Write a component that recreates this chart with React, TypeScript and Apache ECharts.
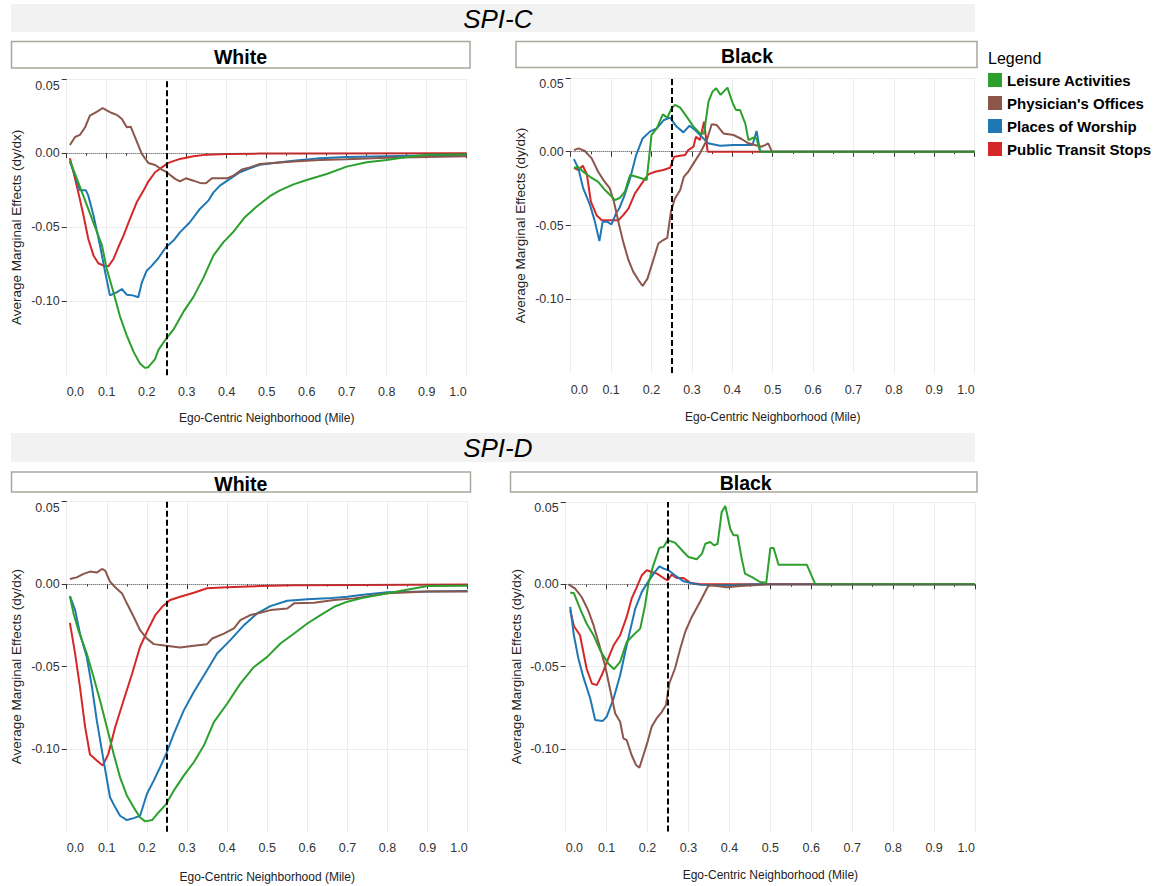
import React, { useEffect, useRef } from "react";
import * as echarts from "echarts";

// ---- series labels and colours ----
const seriesNames = ["Leisure Activities", "Physician's Offices", "Places of Worship", "Public Transit Stops"];
const seriesColors = ["#2ca02c", "#8c564b", "#1f77b4", "#d62728"];
const stripLabels = ["White", "Black", "White", "Black"];
const sectionTitles = ["SPI-C", "SPI-D"];
const yLabelValues = [0.05, 0, -0.05, -0.1];
const cutoffMile = 0.25;

// ---- SPI-C, White ----
const cWhiteLeisure: [number, number][] = [[0.008,-0.005],[0.042,-0.029],[0.067,-0.047],[0.088,-0.062],[0.1,-0.078],[0.117,-0.094],[0.133,-0.11],[0.15,-0.123],[0.167,-0.134],[0.183,-0.142],[0.196,-0.145],[0.204,-0.1445],[0.221,-0.139],[0.229,-0.133],[0.248,-0.1255],[0.267,-0.119],[0.292,-0.107],[0.317,-0.097],[0.342,-0.084],[0.367,-0.069],[0.392,-0.06],[0.417,-0.053],[0.446,-0.043],[0.475,-0.036],[0.508,-0.029],[0.533,-0.025],[0.567,-0.021],[0.6,-0.018],[0.65,-0.014],[0.7,-0.009],[0.75,-0.006],[0.8,-0.0045],[0.85,-0.0025],[0.9,-0.001],[1.0,-0.0006]];
const cWhitePhysician: [number, number][] = [[0.008,0.0056],[0.021,0.011],[0.033,0.0124],[0.046,0.0176],[0.058,0.0255],[0.075,0.028],[0.09,0.0306],[0.1,0.029],[0.113,0.0272],[0.125,0.026],[0.138,0.0232],[0.15,0.0176],[0.16,0.018],[0.171,0.0108],[0.188,-0.0005],[0.204,-0.0065],[0.221,-0.0079],[0.238,-0.011],[0.25,-0.0128],[0.271,-0.0173],[0.283,-0.019],[0.298,-0.0169],[0.317,-0.0185],[0.333,-0.02],[0.348,-0.0203],[0.363,-0.0169],[0.383,-0.0169],[0.4,-0.0169],[0.417,-0.0151],[0.438,-0.011],[0.458,-0.0095],[0.483,-0.0072],[0.517,-0.0065],[0.567,-0.0056],[0.633,-0.0045],[0.7,-0.004],[0.8,-0.003],[0.9,-0.0025],[1.0,-0.002]];
const cWhiteWorship: [number, number][] = [[0.008,-0.0056],[0.021,-0.015],[0.033,-0.025],[0.048,-0.025],[0.054,-0.0286],[0.067,-0.042],[0.083,-0.062],[0.096,-0.08],[0.108,-0.096],[0.125,-0.094],[0.138,-0.0917],[0.15,-0.0955],[0.165,-0.096],[0.179,-0.0973],[0.188,-0.0872],[0.2,-0.0793],[0.213,-0.0759],[0.229,-0.0709],[0.248,-0.0635],[0.267,-0.059],[0.283,-0.0534],[0.308,-0.0466],[0.333,-0.0376],[0.354,-0.032],[0.367,-0.0264],[0.383,-0.0218],[0.408,-0.0173],[0.433,-0.0128],[0.458,-0.0101],[0.483,-0.0077],[0.517,-0.0065],[0.567,-0.005],[0.633,-0.0034],[0.7,-0.0025],[0.8,-0.002],[0.9,-0.0015],[1.0,-0.001]];
const cWhiteTransit: [number, number][] = [[0.008,-0.0034],[0.017,-0.0128],[0.029,-0.0264],[0.042,-0.042],[0.054,-0.0579],[0.067,-0.069],[0.079,-0.0743],[0.092,-0.0759],[0.104,-0.0764],[0.117,-0.0714],[0.129,-0.0635],[0.142,-0.0556],[0.158,-0.0444],[0.175,-0.0331],[0.192,-0.0252],[0.204,-0.0191],[0.221,-0.0128],[0.238,-0.0095],[0.254,-0.0065],[0.283,-0.0038],[0.317,-0.002],[0.35,-0.0009],[0.4,-0.0005],[0.483,-0.0002],[0.6,-0.0001],[1.0,0]];

// ---- SPI-C, Black ----
const cBlackLeisure: [number, number][] = [[0.008,-0.0109],[0.019,-0.0104],[0.031,-0.0136],[0.048,-0.017],[0.068,-0.0204],[0.085,-0.026],[0.11,-0.0328],[0.122,-0.0312],[0.134,-0.0271],[0.147,-0.0158],[0.163,-0.017],[0.188,-0.0192],[0.2,0.0113],[0.213,0.0158],[0.228,0.0253],[0.239,0.0231],[0.25,0.0294],[0.258,0.0317],[0.271,0.0299],[0.287,0.0238],[0.304,0.017],[0.32,0.0124],[0.33,0.0124],[0.341,0.0339],[0.351,0.0407],[0.36,0.043],[0.371,0.0385],[0.388,0.0434],[0.401,0.0328],[0.409,0.0283],[0.419,0.0283],[0.432,0.0192],[0.44,0.0079],[0.452,0.0095],[0.46,0.009],[0.469,0],[1.0,0]];
const cBlackPhysician: [number, number][] = [[0.008,0.0011],[0.019,0.0023],[0.035,0.0005],[0.052,-0.0045],[0.068,-0.0136],[0.081,-0.0192],[0.097,-0.0249],[0.107,-0.0339],[0.12,-0.0498],[0.13,-0.0611],[0.143,-0.0735],[0.155,-0.0814],[0.168,-0.0871],[0.178,-0.091],[0.19,-0.086],[0.203,-0.0747],[0.217,-0.0622],[0.228,-0.06],[0.239,-0.0584],[0.248,-0.0407],[0.258,-0.0317],[0.271,-0.026],[0.28,-0.017],[0.291,-0.0136],[0.304,-0.0079],[0.32,-0.0011],[0.337,0.0079],[0.349,0.0186],[0.361,0.0181],[0.378,0.0124],[0.403,0.0113],[0.423,0.0086],[0.44,0.0057],[0.456,0.0045],[0.473,0.0034],[0.481,0.0045],[0.489,0.0057],[0.498,0],[1.0,0]];
const cBlackWorship: [number, number][] = [[0.008,-0.005],[0.019,-0.0113],[0.031,-0.0249],[0.048,-0.0362],[0.06,-0.0475],[0.071,-0.0606],[0.079,-0.0475],[0.091,-0.0475],[0.101,-0.0493],[0.112,-0.0419],[0.12,-0.0385],[0.132,-0.0305],[0.147,-0.0181],[0.162,-0.0023],[0.178,0.009],[0.196,0.0136],[0.213,0.0158],[0.231,0.0215],[0.246,0.0231],[0.262,0.017],[0.279,0.0131],[0.294,0.0176],[0.308,0.0147],[0.324,0.0102],[0.34,0.0057],[0.37,0.0041],[0.403,0.0045],[0.436,0.0045],[0.45,0.0045],[0.46,0.014],[0.469,0],[1.0,0]];
const cBlackTransit: [number, number][] = [[0.008,-0.0109],[0.019,-0.0124],[0.03,-0.0095],[0.04,-0.0154],[0.05,-0.0339],[0.064,-0.043],[0.077,-0.0464],[0.093,-0.0464],[0.118,-0.0464],[0.13,-0.043],[0.143,-0.0385],[0.159,-0.0283],[0.176,-0.0215],[0.192,-0.0154],[0.209,-0.0136],[0.229,-0.0124],[0.246,-0.0109],[0.256,-0.0034],[0.271,-0.0027],[0.283,-0.0023],[0.291,0.0011],[0.304,0.0034],[0.31,0.0102],[0.32,0.0079],[0.33,0.0204],[0.339,0],[1.0,0]];

// ---- SPI-D, White ----
const dWhiteLeisure: [number, number][] = [[0.008,-0.0073],[0.017,-0.0178],[0.029,-0.0279],[0.05,-0.0421],[0.067,-0.0563],[0.083,-0.0704],[0.1,-0.0866],[0.117,-0.1028],[0.133,-0.117],[0.15,-0.128],[0.167,-0.1352],[0.183,-0.1413],[0.196,-0.1437],[0.213,-0.1429],[0.229,-0.1383],[0.248,-0.1332],[0.267,-0.1251],[0.292,-0.116],[0.317,-0.1079],[0.342,-0.0978],[0.367,-0.0836],[0.4,-0.0725],[0.433,-0.0603],[0.467,-0.0502],[0.5,-0.0441],[0.533,-0.036],[0.567,-0.03],[0.6,-0.0239],[0.633,-0.0188],[0.667,-0.0138],[0.7,-0.0107],[0.733,-0.0087],[0.8,-0.0056],[0.9,-0.0012],[1.0,-0.001]];
const dWhitePhysician: [number, number][] = [[0.008,0.003],[0.025,0.004],[0.042,0.0061],[0.058,0.0075],[0.075,0.0069],[0.088,0.0091],[0.096,0.0081],[0.108,0.0014],[0.121,-0.002],[0.138,-0.0057],[0.15,-0.0117],[0.167,-0.0198],[0.183,-0.0279],[0.2,-0.033],[0.217,-0.0364],[0.248,-0.0374],[0.283,-0.0385],[0.317,-0.0374],[0.35,-0.0364],[0.363,-0.033],[0.392,-0.03],[0.417,-0.0269],[0.433,-0.0219],[0.458,-0.0188],[0.483,-0.0174],[0.508,-0.0158],[0.55,-0.0148],[0.567,-0.0117],[0.617,-0.0113],[0.667,-0.0097],[0.717,-0.0087],[0.8,-0.0056],[0.9,-0.0046],[1.0,-0.0046]];
const dWhiteWorship: [number, number][] = [[0.008,-0.0073],[0.021,-0.0158],[0.033,-0.03],[0.05,-0.0441],[0.063,-0.0623],[0.075,-0.0826],[0.092,-0.1069],[0.108,-0.1291],[0.121,-0.1352],[0.133,-0.1403],[0.15,-0.1429],[0.167,-0.1417],[0.183,-0.1403],[0.2,-0.1271],[0.217,-0.119],[0.233,-0.1109],[0.248,-0.1028],[0.267,-0.0907],[0.292,-0.0765],[0.317,-0.0654],[0.35,-0.0522],[0.375,-0.0421],[0.408,-0.034],[0.442,-0.0249],[0.475,-0.0178],[0.508,-0.0134],[0.55,-0.0101],[0.6,-0.0093],[0.65,-0.0087],[0.7,-0.0077],[0.733,-0.0067],[0.8,-0.005],[0.9,-0.0045],[1.0,-0.0042]];
const dWhiteTransit: [number, number][] = [[0.008,-0.0235],[0.021,-0.0421],[0.033,-0.0623],[0.046,-0.0866],[0.058,-0.1032],[0.075,-0.1069],[0.09,-0.1099],[0.104,-0.1028],[0.121,-0.0866],[0.142,-0.0704],[0.163,-0.0543],[0.183,-0.038],[0.2,-0.029],[0.221,-0.0188],[0.238,-0.0138],[0.258,-0.0097],[0.283,-0.0077],[0.317,-0.0053],[0.35,-0.0026],[0.4,-0.002],[0.483,-0.0012],[0.567,-0.0008],[0.733,-0.0006],[1.0,-0.0003]];

// ---- SPI-D, Black ----
const dBlackLeisure: [number, number][] = [[0.011,-0.0051],[0.02,-0.0053],[0.035,-0.0147],[0.051,-0.0238],[0.068,-0.0309],[0.084,-0.04],[0.104,-0.0481],[0.118,-0.0515],[0.133,-0.0471],[0.149,-0.035],[0.165,-0.0309],[0.182,-0.0269],[0.194,-0.0127],[0.202,0.0004],[0.214,0.0115],[0.229,0.0222],[0.239,0.0226],[0.249,0.0267],[0.267,0.0253],[0.288,0.0196],[0.3,0.0166],[0.32,0.0152],[0.333,0.0186],[0.341,0.0246],[0.353,0.0257],[0.363,0.0236],[0.371,0.0246],[0.377,0.0358],[0.381,0.0438],[0.39,0.0475],[0.402,0.0337],[0.41,0.0297],[0.42,0.0297],[0.43,0.0156],[0.438,0.0065],[0.455,0.0044],[0.475,0.0014],[0.49,0.001],[0.5,0.022],[0.508,0.022],[0.52,0.0119],[0.557,0.0119],[0.589,0.0119],[0.61,0],[1.0,0]];
const dBlackPhysician: [number, number][] = [[0.007,0],[0.023,-0.0026],[0.039,-0.0077],[0.055,-0.0158],[0.068,-0.0248],[0.08,-0.035],[0.096,-0.0491],[0.108,-0.0632],[0.121,-0.0784],[0.133,-0.0834],[0.141,-0.0935],[0.149,-0.0945],[0.161,-0.1036],[0.172,-0.1097],[0.18,-0.1113],[0.19,-0.1036],[0.2,-0.0956],[0.21,-0.0865],[0.223,-0.081],[0.235,-0.0774],[0.245,-0.0733],[0.253,-0.0602],[0.267,-0.0511],[0.28,-0.039],[0.292,-0.0289],[0.308,-0.0198],[0.328,-0.0107],[0.349,-0.0006],[0.369,-0.001],[0.394,-0.0018],[0.426,-0.001],[0.459,-0.0006],[0.49,0],[1.0,0]];
const dBlackWorship: [number, number][] = [[0.011,-0.0137],[0.02,-0.0309],[0.031,-0.045],[0.043,-0.0562],[0.06,-0.0693],[0.072,-0.0824],[0.09,-0.083],[0.1,-0.0804],[0.117,-0.0693],[0.133,-0.0552],[0.149,-0.037],[0.17,-0.0147],[0.186,-0.0046],[0.202,0.0018],[0.218,0.0075],[0.229,0.0109],[0.239,0.0095],[0.251,0.0085],[0.267,0.0055],[0.288,0.0018],[0.312,0.0004],[0.328,-0.0002],[0.394,-0.0006],[0.475,0],[1.0,0]];
const dBlackTransit: [number, number][] = [[0.011,-0.0158],[0.02,-0.0253],[0.035,-0.0309],[0.051,-0.0511],[0.064,-0.0602],[0.076,-0.0612],[0.088,-0.0552],[0.104,-0.045],[0.117,-0.037],[0.133,-0.0309],[0.149,-0.0198],[0.161,-0.0087],[0.174,-0.0016],[0.186,0.0055],[0.198,0.0085],[0.21,0.0075],[0.223,0.0065],[0.239,0.0038],[0.249,0.0024],[0.259,0.0059],[0.271,0.0038],[0.288,0.0038],[0.304,0.001],[0.328,0],[1.0,0]];

const panelData = [
  [cWhiteLeisure, cWhitePhysician, cWhiteWorship, cWhiteTransit],
  [cBlackLeisure, cBlackPhysician, cBlackWorship, cBlackTransit],
  [dWhiteLeisure, dWhitePhysician, dWhiteWorship, dWhiteTransit],
  [dBlackLeisure, dBlackPhysician, dBlackWorship, dBlackTransit],
];

// ---- layout (px) ----
const grids = [
  { left: 66.7, top: 79.3, width: 400, height: 296 },
  { left: 570.7, top: 77.9, width: 404, height: 295.2 },
  { left: 66.7, top: 501.4, width: 401, height: 330.4 },
  { left: 565.7, top: 501.9, width: 409.3, height: 329.6 },
];
const yNameGaps = [43, 43.5, 43, 42.5];
const xNameGaps = [37, 37.5, 39, 37.5];
const strips = [
  { x: 11.5, y: 41.5, w: 458.5, h: 26.5, tx: 240.5, ty: 56.5 },
  { x: 516, y: 41.5, w: 461, h: 26, tx: 747, ty: 56 },
  { x: 11.5, y: 472, w: 459, h: 20, tx: 240.8, ty: 483.5 },
  { x: 510.5, y: 472, w: 466.5, h: 20, tx: 745.7, ty: 483.3 },
];
const titleBars = [
  { y: 4, h: 28, ty: 18.5 },
  { y: 433, h: 29, ty: 448 },
];

const SANS = "'Liberation Sans', Arial, sans-serif";

function buildOption() {
  const drawOrder = [3, 2, 1, 0];
  const series: any[] = [];
  const xAxis: any[] = [];
  const yAxis: any[] = [];

  grids.forEach((g, i) => {
    xAxis.push({
      type: "value",
      gridIndex: i,
      min: 0,
      max: 1,
      interval: 0.1,
      axisLine: { show: false },
      axisTick: { show: true, length: 5, lineStyle: { color: "#333", width: 1 } },
      minorTick: { show: true, splitNumber: 2, length: 2.5, lineStyle: { color: "#333", width: 1 } },
      splitLine: { show: true, lineStyle: { color: "#ececec", width: 1 } },
      axisLabel: {
        formatter: (v: number) => v.toFixed(1),
        fontSize: 12.5,
        fontFamily: SANS,
        color: "#333",
        margin: 10,
        alignMinLabel: "left",
        alignMaxLabel: "right",
      },
      name: "Ego-Centric Neighborhood (Mile)",
      nameLocation: "middle",
      nameGap: xNameGaps[i],
      nameTextStyle: { fontSize: 12, fontFamily: SANS, color: "#222" },
    });
    yAxis.push({
      type: "value",
      gridIndex: i,
      min: -0.15,
      max: 0.05,
      interval: 0.05,
      axisLine: { show: false },
      axisTick: { show: true, length: 5, lineStyle: { color: "#333" }, customValues: yLabelValues },
      splitLine: { show: true, lineStyle: { color: "#ececec", width: 1 } },
      axisLabel: {
        formatter: (v: number) => (Math.abs(v) < 1e-9 ? "0.00" : v.toFixed(2)),
        showMinLabel: false,
        verticalAlignMaxLabel: "top",
        fontSize: 12.5,
        fontFamily: SANS,
        color: "#333",
        margin: 7,
      },
      name: "Average Marginal Effects (dy/dx)",
      nameLocation: "middle",
      nameGap: yNameGaps[i],
      nameTextStyle: { fontSize: 13.5, fontFamily: SANS, color: "#222" },
    });

    // zero reference (dotted), beneath the curves
    series.push({
      type: "line",
      xAxisIndex: i,
      yAxisIndex: i,
      data: [],
      z: 1,
      silent: true,
      markLine: {
        silent: true,
        symbol: ["none", "none"],
        label: { show: false },
        lineStyle: { type: "dotted", color: "#555", width: 1 },
        data: [{ yAxis: 0 }],
      },
    });

    drawOrder.forEach((k) => {
      series.push({
        type: "line",
        name: seriesNames[k],
        xAxisIndex: i,
        yAxisIndex: i,
        data: panelData[i][k],
        showSymbol: false,
        symbol: "none",
        z: 2,
        lineStyle: { color: seriesColors[k], width: 2 },
        itemStyle: { color: seriesColors[k] },
      });
    });

    // quarter-mile cutoff (dashed), above the curves
    series.push({
      type: "line",
      xAxisIndex: i,
      yAxisIndex: i,
      data: [],
      z: 5,
      silent: true,
      markLine: {
        silent: true,
        symbol: ["none", "none"],
        label: { show: false },
        lineStyle: { type: [6, 3], color: "#000", width: 2 },
        data: [{ xAxis: cutoffMile }],
      },
    });
  });

  const elements: any[] = [];
  titleBars.forEach((b, i) => {
    elements.push({ type: "rect", shape: { x: 11, y: b.y, width: 964, height: b.h }, style: { fill: "#f2f2f2" }, silent: true });
    elements.push({
      type: "text",
      x: 497.8,
      y: b.ty,
      style: { text: sectionTitles[i], font: `italic 26px ${SANS}`, fill: "#000", textAlign: "center", textVerticalAlign: "middle" },
      silent: true,
    });
  });
  strips.forEach((s, i) => {
    elements.push({
      type: "rect",
      shape: { x: s.x, y: s.y, width: s.w, height: s.h },
      style: { fill: "#fff", stroke: "#aaa69d", lineWidth: 1.5 },
      silent: true,
    });
    elements.push({
      type: "text",
      x: s.tx,
      y: s.ty,
      style: { text: stripLabels[i], font: `bold 19.5px ${SANS}`, fill: "#000", textAlign: "center", textVerticalAlign: "middle" },
      silent: true,
    });
  });
  elements.push({
    type: "text",
    x: 988,
    y: 58,
    style: { text: "Legend", font: `16px ${SANS}`, fill: "#000", textAlign: "left", textVerticalAlign: "middle" },
    silent: true,
  });

  return {
    animation: false,
    backgroundColor: "#fff",
    grid: grids.map((g) => ({ ...g, containLabel: false })),
    xAxis,
    yAxis,
    series,
    legend: {
      data: seriesNames,
      orient: "vertical",
      left: 983,
      top: 67.5,
      icon: "rect",
      itemWidth: 14,
      itemHeight: 14,
      itemGap: 8,
      selectedMode: false,
      textStyle: { fontSize: 15, fontWeight: "bold", fontFamily: SANS, color: "#000" },
    },
    graphic: { elements },
  };
}

export default function App() {
  const ref = useRef<HTMLDivElement>(null);
  useEffect(() => {
    if (!ref.current) return;
    const chart = echarts.init(ref.current, null, { renderer: "svg" });
    chart.setOption(buildOption() as any);
    return () => chart.dispose();
  }, []);
  return <div ref={ref} style={{ position: "absolute", left: 0, top: 0, width: 1163, height: 886 }} />;
}
